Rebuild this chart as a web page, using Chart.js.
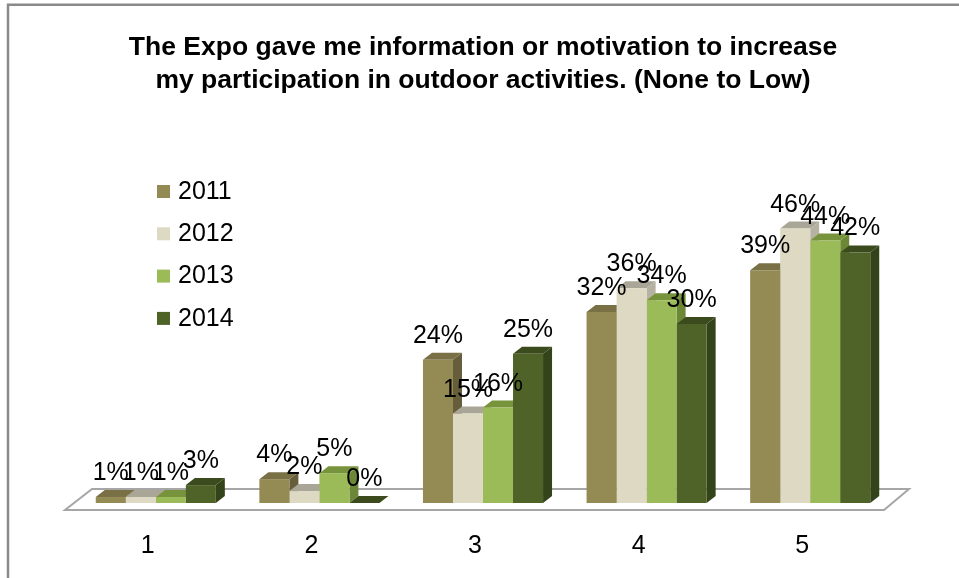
<!DOCTYPE html>
<html><head><meta charset="utf-8">
<script src="https://cdn.jsdelivr.net/npm/chart.js@4.4.1/dist/chart.umd.min.js"></script>
<style>html,body{margin:0;padding:0;background:#fff;}#wrap{position:relative;width:959px;height:578px;}</style>
</head><body><div id="wrap"><canvas id="c"></canvas></div>
<script>
const categories = ['1','2','3','4','5'];
const seriesNames = ['2011','2012','2013','2014'];
const values2011 = [1,4,24,32,39];
const values2012 = [1,2,15,36,46];
const values2013 = [1,5,16,34,44];
const values2014 = [3,0,25,30,42];
const titleLines = ['The Expo gave me information or motivation to increase','my participation in outdoor activities. (None to Low)'];

const frontColors = ['#948A54','#DDD9C3','#9BBB59','#4F6228'];
const topColors = ['#7A7046','#A9A697','#77933C','#3C4B1E'];
const sideColors = ['#665D3A','#B5B2A1','#6C8836','#33431A'];
const FONT = "'Liberation Sans', Arial, sans-serif";
const DX = 9, DY = 7;

const seriesValues = [values2011, values2012, values2013, values2014];

const framePlugin = {
  id: 'frame',
  beforeDraw(chart) {
    const ctx = chart.ctx;
    ctx.save();
    ctx.strokeStyle = '#8a8a8a';
    ctx.lineWidth = 2.5;
    ctx.beginPath();
    ctx.moveTo(8, 578); ctx.lineTo(8, 4.8); ctx.lineTo(959, 4.8);
    ctx.stroke();
    ctx.restore();
  }
};

const bar3dPlugin = {
  id: 'bar3d',
  beforeDatasetsDraw(chart) {
    const ctx = chart.ctx;
    const a = chart.chartArea;
    const base = chart.scales.y.getPixelForValue(0);
    ctx.save();
    ctx.beginPath();
    ctx.moveTo(a.left - 9, base + 7);
    ctx.lineTo(a.right - 8, base + 7);
    ctx.lineTo(a.right + 17, base - 14);
    ctx.lineTo(a.left + 18, base - 14);
    ctx.closePath();
    ctx.fillStyle = '#ffffff';
    ctx.fill();
    ctx.strokeStyle = '#a6a6a6';
    ctx.lineWidth = 2;
    ctx.stroke();
    chart.data.datasets.forEach((ds, di) => {
      const meta = chart.getDatasetMeta(di);
      meta.data.forEach((el) => {
        const p = el.getProps(['x','y','base','width'], true);
        const l = p.x - p.width/2, r = p.x + p.width/2;
        ctx.beginPath();
        ctx.moveTo(r, p.y); ctx.lineTo(r + DX, p.y - DY);
        ctx.lineTo(r + DX, p.base - DY); ctx.lineTo(r, p.base);
        ctx.closePath();
        ctx.fillStyle = sideColors[di]; ctx.fill();
        ctx.beginPath();
        ctx.moveTo(l, p.y); ctx.lineTo(l + DX, p.y - DY);
        ctx.lineTo(r + DX, p.y - DY); ctx.lineTo(r, p.y);
        ctx.closePath();
        ctx.fillStyle = topColors[di]; ctx.fill();
      });
    });
    ctx.restore();
  },
  afterDatasetsDraw(chart) {
    const ctx = chart.ctx;
    ctx.save();
    ctx.font = '25px ' + FONT;
    ctx.fillStyle = '#000';
    ctx.textAlign = 'center';
    ctx.textBaseline = 'alphabetic';
    chart.data.datasets.forEach((ds, di) => {
      const meta = chart.getDatasetMeta(di);
      meta.data.forEach((el, i) => {
        const p = el.getProps(['x','y'], true);
        ctx.fillText(ds.data[i] + '%', p.x, p.y - 17);
      });
    });
    ctx.restore();
  },
  afterDraw(chart) {
    const ctx = chart.ctx;
    ctx.save();
    ctx.font = '25px ' + FONT;
    ctx.textBaseline = 'middle';
    ctx.textAlign = 'left';
    chart.data.datasets.forEach((ds, di) => {
      const yc = 191 + di * 42.3;
      ctx.fillStyle = ds.backgroundColor;
      ctx.fillRect(157, yc - 6, 13, 13);
      ctx.fillStyle = '#000';
      ctx.fillText(ds.label, 178, yc + 1);
    });
    ctx.restore();
  }
};

new Chart(document.getElementById('c'), {
  type: 'bar',
  data: {
    labels: categories,
    datasets: seriesNames.map((n, i) => ({
      label: n,
      data: seriesValues[i],
      backgroundColor: frontColors[i],
      borderWidth: 0,
      categoryPercentage: 0.734,
      barPercentage: 1.0
    }))
  },
  options: {
    responsive: true,
    maintainAspectRatio: false,
    animation: false,
    devicePixelRatio: 1,
    layout: { padding: { left: 74, right: 67, top: 0, bottom: 0 } },
    plugins: {
      legend: { display: false },
      tooltip: { enabled: false },
      title: {
        display: true,
        text: titleLines,
        color: '#000',
        font: { family: FONT, size: 26.5, weight: 'bold', lineHeight: 1.22 },
        padding: { top: 32, bottom: 48.4 }
      }
    },
    scales: {
      x: {
        grid: { display: false, drawTicks: false },
        border: { display: false },
        ticks: { color: '#000', font: { family: FONT, size: 25 }, padding: 28, labelOffset: -8 },
        afterFit(scale) { scale.height = 75; }
      },
      y: { display: false, min: 0, max: 60 }
    }
  },
  plugins: [framePlugin, bar3dPlugin]
});
</script>
</body></html>
